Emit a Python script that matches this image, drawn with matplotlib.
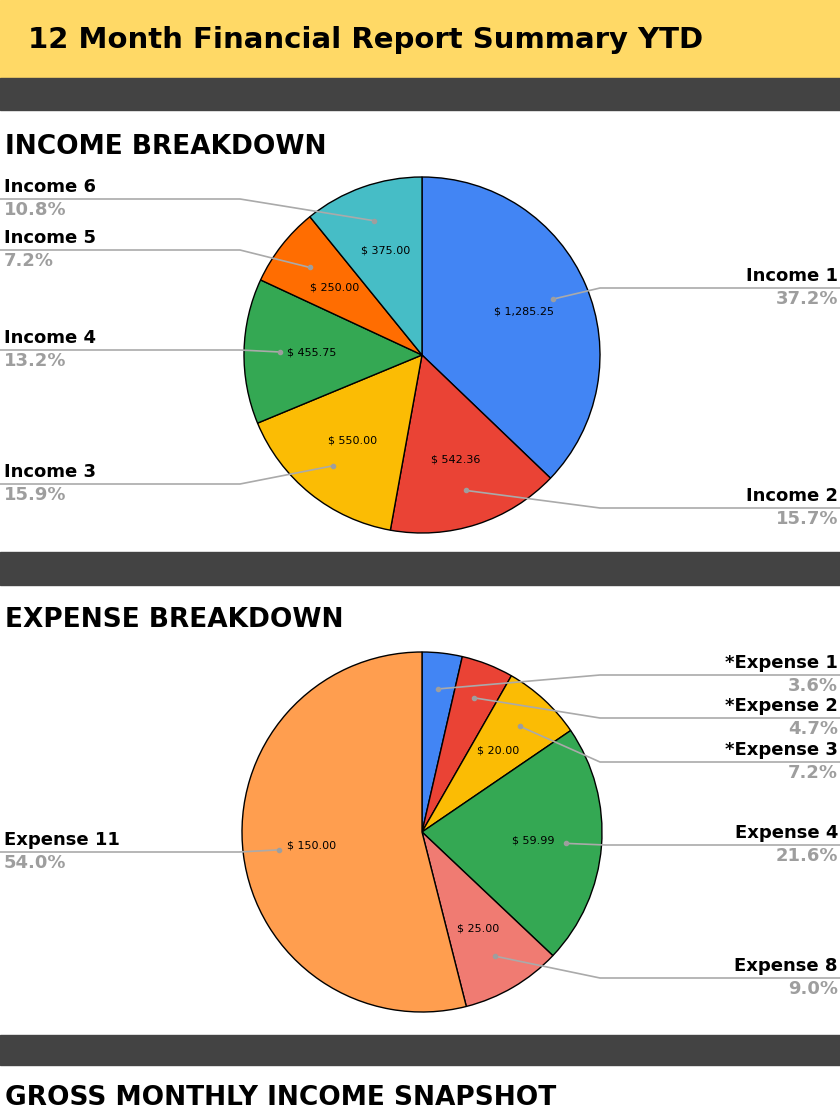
import matplotlib
matplotlib.use("Agg")
import matplotlib.pyplot as plt
import numpy as np
from matplotlib.patches import Rectangle

income_labels = ["Income 1", "Income 2", "Income 3", "Income 4", "Income 5", "Income 6"]
income_values = [1285.25, 542.36, 550.00, 455.75, 250.00, 375.00]
income_colors = ["#4285F4", "#EA4335", "#FBBC04", "#34A853", "#FF6D01", "#46BDC6"]

expense_labels = ["*Expense 1", "*Expense 2", "*Expense 3", "Expense 4", "Expense 8", "Expense 11"]
expense_values = [10.00, 13.00, 20.00, 59.99, 25.00, 150.00]
expense_colors = ["#4285F4", "#EA4335", "#FBBC04", "#34A853", "#F07B72", "#FF9E4F"]

W, H = 840, 1120
fig = plt.figure(figsize=(8.4, 11.2), dpi=100)
ax = fig.add_axes([0, 0, 1, 1])
ax.set_xlim(0, W); ax.set_ylim(0, H); ax.axis("off")
Y = lambda py: H - py

def band(y0, y1, color):
    ax.add_patch(Rectangle((0, Y(y1)), W, y1 - y0, color=color, zorder=0))

band(0, 78, "#FFD966")
band(78, 110, "#434343")
band(552, 585, "#434343")
band(1035, 1065, "#434343")

ax.text(28, Y(40), "12 Month Financial Report Summary YTD", fontsize=21, fontweight="bold", va="center")
ax.text(5, Y(147), "INCOME BREAKDOWN", fontsize=19, fontweight="bold", va="center")
ax.text(5, Y(620), "EXPENSE BREAKDOWN", fontsize=19, fontweight="bold", va="center")
ax.text(5, Y(1098), "GROSS MONTHLY INCOME SNAPSHOT", fontsize=19, fontweight="bold", va="center")

def draw_pie(values, labels, colors, cx, cy, r, line_y, sides, inner_min):
    total = sum(values)
    ax.pie(values, colors=colors, center=(cx, Y(cy)), radius=r, startangle=90,
           counterclock=False, wedgeprops=dict(edgecolor="black", linewidth=1))
    ang = 90.0
    for v, lab, ly, side in zip(values, labels, line_y, sides):
        frac = v / total
        mid = np.deg2rad(ang - frac * 360 / 2)
        ang -= frac * 360
        dx, dy = cx + 0.8 * r * np.cos(mid), Y(cy) + 0.8 * r * np.sin(mid)
        if v >= inner_min:
            tx, ty = cx + 0.62 * r * np.cos(mid), Y(cy) + 0.62 * r * np.sin(mid)
            ax.text(tx, ty, f"$ {v:,.2f}", fontsize=8, ha="center", va="center")
        ax.plot(dx, dy, "o", color="#9E9E9E", ms=3, zorder=5)
        if side == "right":
            kx = max(dx + 40, 600)
            ax.plot([dx, kx, W], [dy, Y(ly), Y(ly)], color="#AAAAAA", lw=1.2, zorder=4)
            ax.text(W - 2, Y(ly) + 3, lab, fontsize=13, fontweight="bold", ha="right", va="bottom")
            ax.text(W - 2, Y(ly) - 2, f"{frac*100:.1f}%", fontsize=13, fontweight="bold",
                    color="#9E9E9E", ha="right", va="top")
        else:
            kx = min(dx - 40, 240)
            ax.plot([dx, kx, 0], [dy, Y(ly), Y(ly)], color="#AAAAAA", lw=1.2, zorder=4)
            ax.text(4, Y(ly) + 3, lab, fontsize=13, fontweight="bold", ha="left", va="bottom")
            ax.text(4, Y(ly) - 2, f"{frac*100:.1f}%", fontsize=13, fontweight="bold",
                    color="#9E9E9E", ha="left", va="top")

draw_pie(income_values, income_labels, income_colors, 422, 355, 178,
         [288, 508, 484, 350, 250, 199],
         ["right", "right", "left", "left", "left", "left"], 100)
draw_pie(expense_values, expense_labels, expense_colors, 422, 832, 180,
         [675, 718, 762, 845, 978, 852],
         ["right", "right", "right", "right", "right", "left"], 15)

ax.set_aspect("auto")
ax.set_xlim(0, W); ax.set_ylim(0, H)
fig.savefig("out.png", dpi=100)
